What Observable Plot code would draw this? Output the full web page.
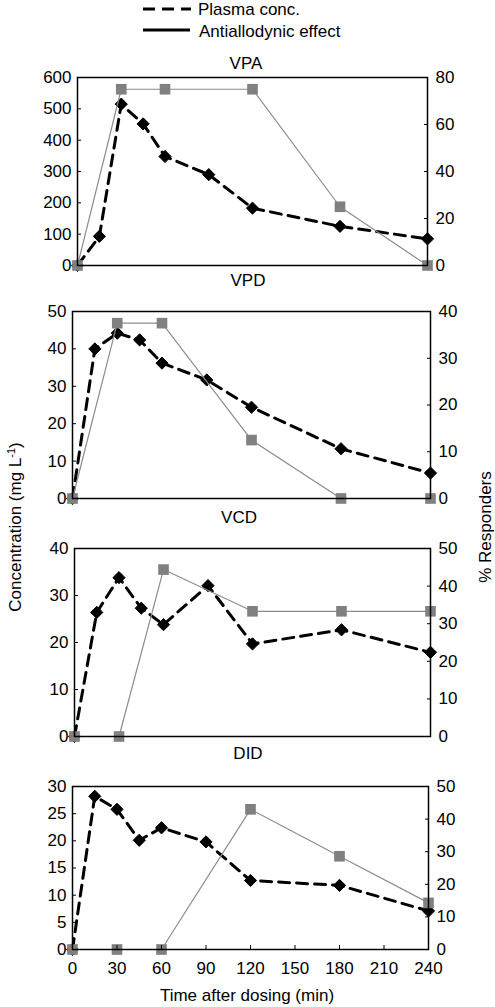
<!DOCTYPE html>
<html><head><meta charset="utf-8">
<script src="https://cdn.jsdelivr.net/npm/d3@7"></script>
<script src="https://cdn.jsdelivr.net/npm/@observablehq/plot@0.6"></script>
<style>
body{margin:0;background:#fff;font-family:"Liberation Sans",Arial,sans-serif;}
#root{position:relative;width:495px;height:1007px;overflow:hidden;}
svg{overflow:visible;}
.lbl{position:absolute;font-size:17px;color:#000;white-space:nowrap;line-height:1;}
.ctr{transform:translate(-50%,-50%);}
</style></head><body><div id="root"></div>
<script>
// ---- data ----
const times = [0, 15, 30, 45, 60, 90, 120, 180, 240];
const vpaConc = [0, 93, 515, 452, 348, 290, 183, 125, 85];
const vpdConc = [0, 40, 44.2, 42.4, 36.2, 31.7, 24.4, 13.3, 6.8];
const vcdConc = [0, 26.4, 33.8, 27.3, 23.8, 32.1, 19.7, 22.7, 17.9];
const didConc = [0, 28.2, 25.8, 20.1, 22.4, 19.8, 12.7, 11.8, 7.1];
const respTimes = [0, 30, 60, 120, 180, 240];
const vpaResp = [0, 75, 75, 75, 25, 0];
const vpdResp = [0, 37.5, 37.5, 12.5, 0, 0];
const vcdResp = [0, 0, 44.4, 33.3, 33.3, 33.3];
const didResp = [0, 0, 0, 43, 28.6, 14.3];
const xTicks = [0, 30, 60, 90, 120, 150, 180, 210, 240];
const panelNames = ["VPA", "VPD", "VCD", "DID"];

const root = document.getElementById("root");
const FONT = '"Liberation Sans", Arial, sans-serif';

function addLabel(html, x, y, extra) {
  const d = document.createElement("div");
  d.className = "lbl ctr";
  d.style.left = x + "px";
  d.style.top = y + "px";
  if (extra) d.style.transform = "translate(-50%,-50%) " + extra;
  d.innerHTML = html;
  root.appendChild(d);
}

// legend
const leg = d3.create("svg").attr("width", 495).attr("height", 45)
  .style("position", "absolute").style("left", "0px").style("top", "0px");
leg.append("line").attr("x1", 143).attr("x2", 191).attr("y1", 9).attr("y2", 9)
  .attr("stroke", "#000").attr("stroke-width", 3).attr("stroke-dasharray", "12,7");
leg.append("line").attr("x1", 143).attr("x2", 190).attr("y1", 30).attr("y2", 30)
  .attr("stroke", "#000").attr("stroke-width", 3);
leg.append("text").attr("x", 198).attr("y", 9).attr("dy", "0.35em").attr("font-size", 17)
  .attr("font-family", FONT).text("Plasma conc.");
leg.append("text").attr("x", 199).attr("y", 31).attr("dy", "0.35em").attr("font-size", 17)
  .attr("font-family", FONT).text("Antiallodynic effect");
root.appendChild(leg.node());

const panels = [
  {name: panelNames[0], conc: vpaConc, resp: vpaResp, cMax: 600, cStep: 100, rMax: 80, rStep: 20,
   left: 77, right: 427, top: 77, bottom: 265, titleX: 246, titleY: 63},
  {name: panelNames[1], conc: vpdConc, resp: vpdResp, cMax: 50, cStep: 10, rMax: 40, rStep: 10,
   left: 72, right: 430, top: 311, bottom: 498, titleX: 248, titleY: 280},
  {name: panelNames[2], conc: vcdConc, resp: vcdResp, cMax: 40, cStep: 10, rMax: 50, rStep: 10,
   left: 74, right: 430, top: 548, bottom: 736, titleX: 239, titleY: 517},
  {name: panelNames[3], conc: didConc, resp: didResp, cMax: 30, cStep: 5, rMax: 50, rStep: 10,
   left: 72, right: 428, top: 786, bottom: 949, titleX: 248, titleY: 753, xAxis: true}
];

for (const p of panels) {
  const k = p.cMax / p.rMax;
  const conc = times.map((t, i) => ({t, v: p.conc[i]}));
  const resp = respTimes.map((t, i) => ({t, v: p.resp[i] * k}));
  const svgTop = p.top - 10;
  const mb = p.xAxis ? 40 : 10;
  const height = p.bottom - svgTop + mb;
  const marks = [
    Plot.axisY(d3.range(0, p.cMax + 1e-9, p.cStep), {anchor: "left", tickSize: -4, tickPadding: 10, label: null, tickFormat: d => d}),
    Plot.axisY(d3.range(0, p.rMax + 1e-9, p.rStep).map(r => r * k), {anchor: "right", tickSize: -4, tickPadding: 12, label: null, tickFormat: v => Math.round(v / k)}),
    Plot.line(conc, {x: "t", y: "v", stroke: "#000", strokeWidth: 3, strokeDasharray: "11,7"}),
    Plot.dot(conc, {x: "t", y: "v", symbol: "diamond2", r: 5.5, fill: "#000", stroke: "#000", strokeWidth: 1}),
    Plot.line(resp, {x: "t", y: "v", stroke: "#8c8c8c", strokeWidth: 1.2}),
    Plot.dot(resp, {x: "t", y: "v", symbol: "square", r: 6, fill: "#808080"}),
    Plot.frame({stroke: "#000", strokeWidth: 1.5})
  ];
  if (p.xAxis) marks.push(Plot.axisX(xTicks, {anchor: "bottom", tickSize: -4, tickPadding: 16, label: null}));
  const chart = Plot.plot({
    width: 495, height,
    marginLeft: p.left, marginRight: 495 - p.right, marginTop: 10, marginBottom: mb,
    style: {fontFamily: FONT, fontSize: "17px", color: "#000", background: "transparent", overflow: "visible"},
    x: {domain: [0, 240], axis: p.xAxis ? undefined : null},
    y: {domain: [0, p.cMax]},
    marks
  });
  chart.style.position = "absolute";
  chart.style.left = "0px";
  chart.style.top = svgTop + "px";
  root.appendChild(chart);
  addLabel(p.name, p.titleX, p.titleY);
}

addLabel("Concentration (mg L<sup style='font-size:11px'>-1</sup>)", 15, 527, "rotate(-90deg)");
addLabel("% Responders", 485, 527, "rotate(-90deg)");
addLabel("Time after dosing (min)", 247, 995);
</script></body></html>
